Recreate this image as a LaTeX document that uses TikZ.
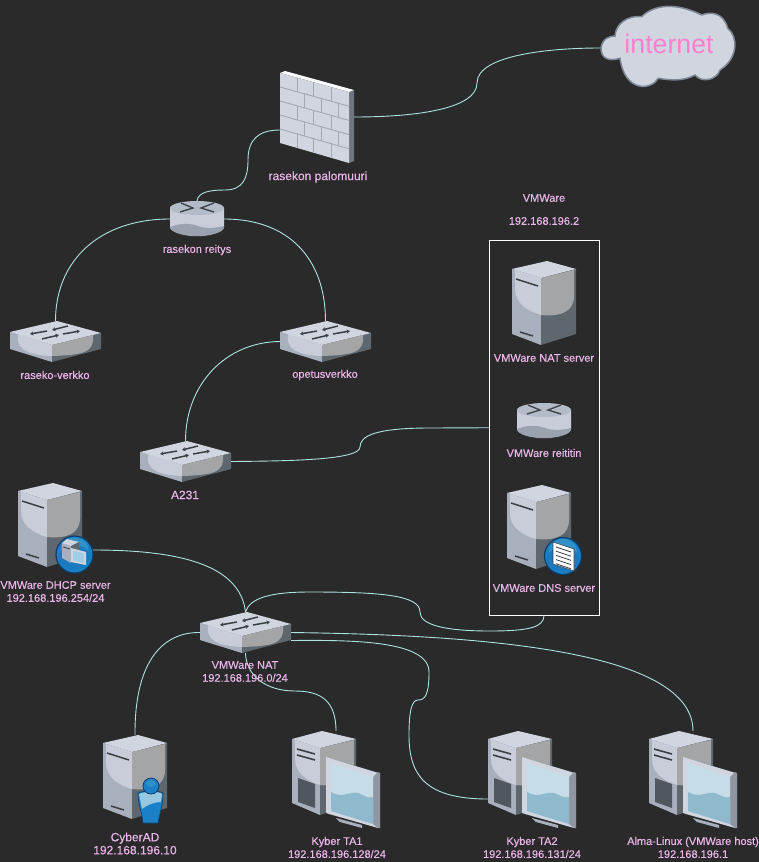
\documentclass[tikz,border=0pt]{standalone}
\usepackage{fontspec}
\setmainfont{Liberation Sans}
\newfontfamily\lblfont[FakeBold=0.4]{Liberation Sans}
\usetikzlibrary{arrows.meta}
\definecolor{bgc}{HTML}{2A2A2A}
\definecolor{labc}{HTML}{EBB4EA}
\definecolor{linkc}{HTML}{AEE3DD}
\definecolor{topc}{HTML}{D1D5DF}
\definecolor{lightc}{HTML}{C9CDD9}
\definecolor{sidec}{HTML}{A8B0BE}
\definecolor{darkc}{HTML}{5F676E}
\definecolor{greyc}{HTML}{A3A5A7}
\definecolor{inkc}{HTML}{3B3F45}
\definecolor{badgec}{HTML}{1A80C8}
\definecolor{badgedk}{HTML}{0C3F68}
\definecolor{scrc}{HTML}{C6DDE8}
\definecolor{scrb}{HTML}{8FB9CD}
\definecolor{cloudc}{HTML}{7E8795}
\definecolor{pinkc}{HTML}{FF7FD0}
\definecolor{fwd}{HTML}{6E7580}
\definecolor{fwl}{HTML}{A4A8B3}
\tikzset{
  x=1pt,y=-1pt,
  iconbox/.style={inner sep=0pt,outer sep=0pt},
  link/.style={draw=linkc,line width=0.9pt},
  lab/.style={text=labc,font=\lblfont\fontsize{11}{13}\selectfont,inner sep=0pt,align=center},
  labbig/.style={lab,font=\lblfont\fontsize{12}{13}\selectfont},
  ink/.style={draw=inkc,line width=1.5pt},
  swarrow/.style={inkc,line width=1.5pt,-{Stealth[length=3.5pt,width=4pt]}},
}
\newcommand\switchicon[3]{%
\begin{scope}[shift={(#2,#3)}]
  \node[iconbox,minimum width=91pt,minimum height=41pt] (#1) at (45.5,20.5) {};
  \fill[sidec] (0,11) -- (42,24) -- (42,41) -- (0,28) -- cycle;
  \fill[darkc] (42,24) -- (91,12) -- (91,28) -- (42,41) -- cycle;
  \fill[topc] (0,11) -- (47,0) -- (91,12) -- (42,24) -- cycle;
  \fill[lightc] (8,13) .. controls (6,26) and (14,34) .. (42,35) -- (42,24) -- cycle;
  \fill[greyc] (42,24) -- (42,35) .. controls (72,34) and (85,32) .. (83,14) -- cycle;
  \draw[swarrow] (37,10) -- (20,13);
  \draw[swarrow] (58,5) -- (42,9);
  \draw[swarrow] (32,18) -- (49,14);
  \draw[swarrow] (53,13) -- (70,10);
\end{scope}}
\newcommand\routericon[3]{%
\begin{scope}[shift={(#2,#3)}]
  \node[iconbox,minimum width=54pt,minimum height=36pt] (#1) at (27,18) {};
  \fill[inkc!70!bgc] (0,26) .. controls (0,32) and (14,36) .. (27,36) .. controls (40,36) and (54,32) .. (54,26) -- cycle;
  \fill[lightc] (0,7) -- (54,7) -- (54,26) .. controls (54,31) and (40,35) .. (27,35) .. controls (14,35) and (0,31) .. (0,26) -- cycle;
  \fill[sidec!92!black] (0,26) .. controls (10,22) and (20,22) .. (28,25) .. controls (36,28) and (46,27) .. (54,25) -- (54,26) .. controls (54,31) and (40,35) .. (27,35) .. controls (14,35) and (0,31) .. (0,26) -- cycle;
  \fill[sidec!70!topc] (27,7) ellipse[x radius=27,y radius=7];
  \draw[ink,line width=1.3pt] (11,2) -- (23,7) -- (10,11);
  \draw[ink,line width=1.3pt] (44,2) -- (31,7) -- (44,11);
\end{scope}}
\newcommand\serverbody{%
  \fill[sidec] (0,8) -- (29,17) -- (29,84) -- (0,73) -- cycle;
  \fill[darkc] (29,17) -- (64,8) -- (64,73) -- (29,84) -- cycle;
  \fill[topc] (0,8) -- (35,0) -- (64,8) -- (29,17) -- cycle;
  \fill[lightc] (3,9) -- (29,17) -- (29,54) .. controls (15,50) and (3,42) .. (3,28) -- cycle;
  \fill[greyc] (29,17) -- (62,9) -- (62,35) .. controls (62,50) and (50,56) .. (29,54) -- cycle;
  \draw[ink] (4,18) -- (26,25);
  \draw[ink] (8,71) -- (21,75);
}
\newcommand\servericon[3]{%
\begin{scope}[shift={(#2,#3)}]
  \node[iconbox,minimum width=64pt,minimum height=84pt] (#1) at (32,42) {};
  \serverbody
\end{scope}}
\newcommand\pcicon[3]{%
\begin{scope}[shift={(#2,#3)}]
  \node[iconbox,minimum width=88pt,minimum height=97pt] (#1) at (44,48.5) {};
  \fill[sidec] (0,8) -- (28,17) -- (28,84) -- (0,72) -- cycle;
  \fill[darkc] (28,17) -- (64,8) -- (64,72) -- (28,84) -- cycle;
  \fill[topc] (0,8) -- (30,0) -- (64,8) -- (28,17) -- cycle;
  \fill[lightc] (3,9) -- (28,17) -- (28,54) .. controls (15,50) and (3,42) .. (3,28) -- cycle;
  \fill[greyc] (28,17) -- (62,9) -- (62,35) .. controls (62,50) and (50,56) .. (28,54) -- cycle;
  \draw[ink,line width=1.6pt] (5,18) -- (23,23);
  \draw[ink,line width=1.6pt] (5,24) -- (23,29);
  \fill[darkc!85!black] (6,47) -- (23,53) -- (23,77) -- (6,71) -- cycle;
  \fill[sidec] (44,87) -- (70,94) -- (70,97) -- (48,91) -- cycle;
  \fill[darkc] (36,27) -- (88,42) -- (88,97) -- (36,83) -- cycle;
  \fill[topc] (34,26) -- (86,42) -- (86,97) -- (34,82) -- cycle;
  \fill[sidec!85!black] (81,46) -- (86,41) -- (88,42) -- (88,97) -- (86,97) -- (81,93) -- cycle;
  \fill[scrc] (39,32) -- (81,46) -- (81,93) -- (39,80) -- cycle;
  \fill[scrb] (39,61) .. controls (50,68) and (58,60) .. (66,62) .. controls (72,64) and (76,68) .. (81,66) -- (81,93) -- (39,80) -- cycle;
\end{scope}}
\newcommand\discbadge[2]{%
  \fill[badgec,draw=badgedk,line width=1.2pt] (#1,#2) circle[radius=18.5];
  \fill[cyan!40!badgec] (#1,#2-5) ellipse[x radius=14,y radius=12];
  \fill[badgec!95!black] (#1,#2+3) ellipse[x radius=16,y radius=12];
}
\begin{document}
\begin{tikzpicture}
\useasboundingbox (0,0) rectangle (759,862);
\fill[bgc] (0,0) rectangle (759,862);

% cloud
\fill[topc,draw=cloudc,line width=1.5pt]
  (601,48) .. controls (602.3,38.3) and (610,36) .. (615,36)
  .. controls (615.7,23.3) and (628.3,15) .. (641.7,16.7)
  .. controls (653.3,5) and (675,1.7) .. (701.7,15)
  .. controls (710,11.7) and (723.3,11.7) .. (727.7,28.3)
  .. controls (738.3,36.7) and (738.3,58.3) .. (720,70)
  .. controls (716.7,80) and (701.7,83.3) .. (695,75)
  .. controls (683.3,81.7) and (668.3,80) .. (658.3,78.3)
  .. controls (651.7,90) and (625,93.3) .. (620,58.3)
  .. controls (608.3,61.7) and (601,58.3) .. (601,48) -- cycle;
\node[iconbox,minimum width=138pt,minimum height=88pt,text=pinkc,font=\fontsize{26.7}{30}\selectfont] (cloud) at (669,44) {internet};

% firewall
\node[iconbox,minimum width=74pt,minimum height=92pt] (fw) at (317,117) {};
\fill[fwd] (349,92) -- (354,90) -- (354,161) -- (349,163) -- cycle;
\fill[white!88!topc] (280,73) -- (285,71) -- (354,90) -- (349,92) -- cycle;
\fill[topc] (280,73) -- (349,92) -- (349,163) -- (280,143) -- cycle;
\foreach \r in {1,...,4}{
  \draw[fwl,line width=0.9pt] (280,73+14*\r) -- (349,92+14.2*\r);
}
\foreach \r in {0,2,4}{\foreach \u in {0.25,0.49,0.74}{
  \draw[fwl,line width=0.9pt] ({280+69*\u},{73+19*\u+14*\r}) -- ++(0,14);
}}
\foreach \r in {1,3}{\foreach \u in {0.36,0.6,0.84}{
  \draw[fwl,line width=0.9pt] ({280+69*\u},{73+19*\u+14*\r}) -- ++(0,14);
}}

% routers and switches
\routericon{gw}{170}{201}
\routericon{vmr}{517}{403}
\switchicon{rv}{10}{321}
\switchicon{ov}{280}{321}
\switchicon{a}{140}{441}
\switchicon{nat}{200}{612}

% servers
\servericon{vmnat}{512}{261}
\servericon{dns}{507}{485}
\servericon{dhcp}{18}{483}
\servericon{ad}{103}{735}

% dns badge
\discbadge{563}{556}
\node[iconbox,minimum size=37pt,circle] (dnsb) at (563,556) {};
\fill[white,draw=inkc,line width=0.6pt] (553,542) -- (574,549) -- (574,571) -- (553,564) -- cycle;
\foreach \k in {0,...,4}{
  \draw[inkc,line width=0.8pt] (556,547+4.2*\k) -- (571,552+4.2*\k);
}
% dhcp badge
\discbadge{74.5}{554.5}
\node[iconbox,minimum size=37pt,circle] (dhcpb) at (74.5,554.5) {};
\fill[sidec] (62,543) -- (71,546) -- (71,563) -- (62,558) -- cycle;
\fill[topc] (62,543) -- (67,539) -- (79,542) -- (71,546) -- cycle;
\fill[darkc] (71,546) -- (79,542) -- (79,550) -- (71,563) -- cycle;
\draw[inkc,line width=0.8pt] (63,547) -- (70,549);
\fill[topc] (71,548) -- (86,552) -- (86,565) -- (71,562) -- cycle;
\fill[cyan!25!scrc] (73,550.5) -- (84,553.5) -- (84,563) -- (73,560) -- cycle;
% person badge
\fill[badgec,draw=badgedk,line width=0.6pt] (138,793) .. controls (145,790) and (158,790) .. (163,793)
  .. controls (163,805) and (160,812) .. (158,823) -- (143,823) .. controls (142,812) and (138,805) .. (138,793) -- cycle;
\fill[cyan!30!lightc] (139,794) .. controls (145,791) and (158,791) .. (162,794) -- (161,802) .. controls (154,802) and (147,805) .. (142,809) -- cycle;
\fill[badgec,draw=badgedk,line width=0.8pt] (151,786) circle[radius=8];
\fill[cyan!40!badgec] (151,783.5) ellipse[x radius=5,y radius=3.5];

% PCs
\pcicon{ta1}{292}{731}
\pcicon{ta2}{488}{731}
\pcicon{alma}{649}{731}

% VMWare box
\node[iconbox,draw=white,line width=0.9pt,minimum width=110pt,minimum height=375pt] (vmbox) at (544,427.75) {};

% connectors
\path[link] (fw.east) .. controls (420,117) and (477,108) .. (477,83) .. controls (477,55) and (550,48) .. ([yshift=-4pt]cloud.west);
\path[link] (gw.north) .. controls (198,192) and (210,190) .. (225,190) .. controls (243,190) and (248,178) .. (248,160) .. controls (248,140) and (258,130) .. ([yshift=-13pt]fw.west);
\path[link] (gw.west) .. controls (100,219) and (55.5,260) .. (rv.north);
\path[link] (gw.east) .. controls (290,219) and (325.5,260) .. (ov.north);
\path[link] (ov.west) .. controls (225,342) and (185.5,385) .. (a.north);
\path[link] (a.east) .. controls (290,461) and (360,460) .. (360,447) .. controls (360,436) and (375,428) .. (430,428) -- (vmbox.west);
\path[link] ([yshift=4.5pt]dhcpb.east) .. controls (180,550) and (240,565) .. (nat.north);
\path[link] (nat.north) .. controls (250,598) and (270,592) .. (310,592) .. controls (380,592) and (420,595) .. (420,612) .. controls (420,625) and (445,631) .. (490,631) .. controls (530,631) and (544,627) .. (vmbox.south);
\path[link] (nat.west) .. controls (160,632) and (134.5,665) .. (ad.north);
\path[link] (nat.south) .. controls (246,675) and (265,691) .. (295,691) .. controls (320,691) and (336,700) .. (ta1.north);
\path[link] (nat.east) .. controls (480,635) and (693,650) .. (alma.north);
\path[link] ([yshift=-8pt]nat.east) .. controls (350,640) and (429,640) .. (429,672) .. controls (429,695) and (425,700) .. (418,700) .. controls (412,700) and (409,710) .. (409,735) .. controls (409,775) and (425,799) .. ([yshift=-19.5pt]ta2.west);

% labels
\node[labbig] (l1) at (318,177) {rasekon palomuuri};
\node[lab] (l2) at (197,250) {rasekon reitys};
\node[lab] (l3) at (55,375) {raseko-verkko};
\node[lab] (l4) at (325,375) {opetusverkko};
\node[labbig] (l5) at (185,495) {A231};
\node[lab] (l6) at (544,198) {VMWare};
\node[lab] (l7) at (544,221) {192.168.196.2};
\node[lab] (l8) at (544,358) {VMWare NAT server};
\node[lab] (l9) at (544,453) {VMWare reititin};
\node[lab] (l10) at (544,588) {VMWare DNS server};
\node[lab] (l11) at (55.5,591.5) {VMWare DHCP server\\192.168.196.254/24};
\node[lab] (l12) at (245,671.5) {VMWare NAT\\192.168.196.0/24};
\node[labbig] (l13) at (135,843.5) {CyberAD\\192.168.196.10};
\node[lab] (l14) at (337,847.5) {Kyber TA1\\192.168.196.128/24};
\node[lab] (l15) at (532,847.5) {Kyber TA2\\192.168.196.131/24};
\node[lab] (l16) at (693,847.5) {Alma-Linux (VMWare host)\\192.168.196.1};
\end{tikzpicture}
\end{document}
